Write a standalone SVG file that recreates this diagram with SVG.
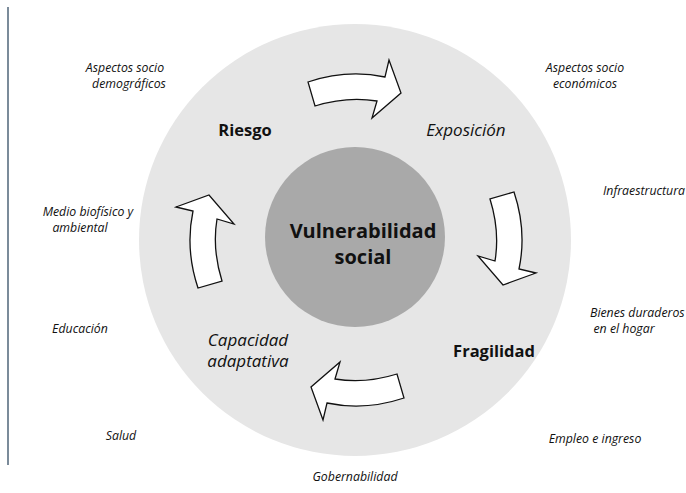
<svg xmlns="http://www.w3.org/2000/svg" width="686" height="493" viewBox="0 0 686 493">
<style>
.lbl{font-family:"Open Sans","Liberation Sans",sans-serif;font-size:12.3px;font-style:italic;fill:#111;text-anchor:middle}
.bold{font-family:"Open Sans","Liberation Sans",sans-serif;font-size:16.5px;font-weight:bold;fill:#111;text-anchor:middle}
.ital{font-family:"Open Sans","Liberation Sans",sans-serif;font-size:17px;font-style:italic;fill:#111;text-anchor:middle}
.core{font-family:"Open Sans","Liberation Sans",sans-serif;font-size:20px;font-weight:bold;fill:#111;text-anchor:middle}
.arr{fill:#fff;stroke:#111;stroke-width:1.3;stroke-linejoin:miter}
</style>
<defs>
<path id="blk" d="M308,82 Q347,69 385,77 L389,60 L401,93 L372,118 L377,101 Q347,96 315,106 Z"/>
</defs>
<line x1="8" y1="7" x2="8" y2="465" stroke="#4f6478" stroke-width="1.5"/>
<g id="outer"><circle cx="355" cy="240" r="216" fill="#e6e6e6"/></g>
<g id="core">
<circle cx="355" cy="237" r="90" fill="#a9a9a9"/>
<text class="core" x="363" y="238">Vulnerabilidad</text>
<text class="core" x="363" y="264">social</text>
</g>
<g id="connectors">
<use href="#blk" class="arr"/>
<use href="#blk" class="arr" transform="rotate(90 356 240)"/>
<use href="#blk" class="arr" transform="rotate(180 356 240)"/>
<use href="#blk" class="arr" transform="rotate(270 356 240)"/>
</g>
<g id="riesgo"><text class="bold" x="245" y="136">Riesgo</text></g>
<g id="exposicion"><text class="ital" x="466" y="136">Exposición</text></g>
<g id="fragilidad"><text class="bold" x="494" y="357">Fragilidad</text></g>
<g id="capacidad"><text class="ital" x="248" y="346">Capacidad</text><text class="ital" x="248" y="367">adaptativa</text></g>
<g id="l-demo"><text class="lbl" x="125" y="72">Aspectos socio</text><text class="lbl" x="129" y="88">demográficos</text></g>
<g id="l-econ"><text class="lbl" x="585" y="72">Aspectos socio</text><text class="lbl" x="585" y="88">económicos</text></g>
<g id="l-infra"><text class="lbl" x="603" y="195" style="text-anchor:start">Infraestructura</text></g>
<g id="l-medio"><text class="lbl" x="88" y="216">Medio biofísico y</text><text class="lbl" x="80" y="232">ambiental</text></g>
<g id="l-bienes"><text class="lbl" x="590" y="317" style="text-anchor:start">Bienes duraderos</text><text class="lbl" x="624" y="333">en el hogar</text></g>
<g id="l-edu"><text class="lbl" x="80" y="333">Educación</text></g>
<g id="l-salud"><text class="lbl" x="121" y="440">Salud</text></g>
<g id="l-empleo"><text class="lbl" x="595" y="443">Empleo e ingreso</text></g>
<g id="l-gob"><text class="lbl" x="355" y="481">Gobernabilidad</text></g>
</svg>
